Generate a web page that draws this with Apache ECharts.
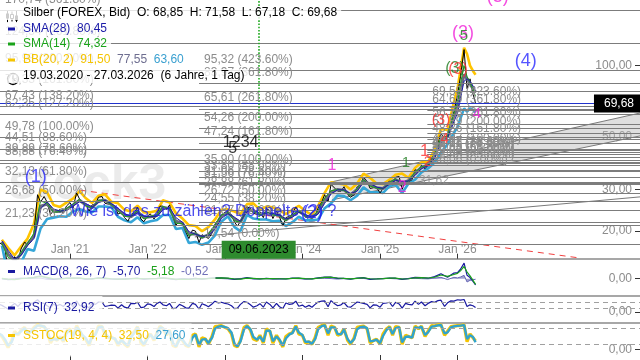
<!DOCTYPE html>
<html><head><meta charset="utf-8">
<script src="https://cdn.jsdelivr.net/npm/echarts@6/dist/echarts.min.js"></script>
<style>html,body{margin:0;padding:0;background:#fff}#c{width:640px;height:360px}</style>
</head><body><div id="c"></div>
<script>
const FONT = '"Liberation Sans", Arial, sans-serif';
// ---------- axes ----------
const xAxisMin = '2020-02-06';
const xAxisMax = '2028-05-10';
const yearTicks = ['2021-01-01','2022-01-01','2023-01-01','2024-01-01','2025-01-01','2026-01-01'];
const priceTicks = [20, 30, 50, 100];
const priceAxisMin = 15.29, priceAxisMax = 189.5;

// ---------- price (1st and 15th of each month, Feb 2020 - Mar 2026, + last day) ----------
const priceValues = [
 17.9,17.6, 16.8,13.5, 14.0,15.6, 15.0,16.8, 18.0,17.4, 18.0,19.6, 28.5,26.5, 28.0,26.5, 23.5,24.5, 24.0,24.7, 23.8,25.5,
 26.4,25.0, 29.0,27.3, 26.5,26.0, 24.3,25.8, 26.0,27.8, 28.0,26.2, 26.0,25.8, 25.5,23.6, 24.0,22.8, 22.0,23.5, 24.0,25.2, 22.5,21.9,
 23.2,23.6, 22.5,23.6, 25.5,25.5, 24.7,25.8, 22.8,21.2, 22.0,21.5, 19.8,18.6, 20.2,20.0, 17.9,19.3, 19.0,18.6, 19.6,21.4, 22.4,23.4,
 24.0,24.2, 23.5,21.8, 21.0,22.0, 24.1,25.3, 25.0,23.8, 23.6,24.2, 22.8,24.9, 24.4,22.6, 24.3,23.0, 21.0,22.8, 23.1,23.6, 25.3,24.1,
 23.9,22.9, 23.0,22.6, 23.2,25.0, 26.5,28.5, 26.6,31.5, 30.4,29.5, 29.5,30.8, 28.6,27.8, 28.5,30.8, 31.5,33.8, 32.5,30.3, 30.5,30.6,
 29.0,30.2, 31.5,32.6, 31.3,33.8, 34.0,30.0, 32.6,32.3, 33.0,36.3, 36.0,38.0, 36.7,38.0, 40.5,42.5, 46.5,52.0, 48.5,51.0, 57.0,64.0,
 75.0,90.0, 117.0,80.0, 88.0,76.0, 69.68
];
const rsiValues = [
 55,48, 35,22, 45,62, 40,66, 70,45, 58,70, 88,68, 62,45, 30,56, 45,55, 40,66,
 64,38, 80,48, 42,45, 30,62, 55,72, 70,40, 45,50, 48,28, 52,35, 28,62, 60,70, 32,35,
 58,55, 40,62, 72,52, 45,62, 25,28, 55,45, 30,28, 62,55, 22,60, 50,38, 58,78, 66,70,
 62,58, 45,25, 28,55, 75,70, 52,35, 45,60, 35,72, 55,30, 62,38, 25,65, 55,58, 78,42,
 50,35, 48,35, 55,72, 78,80, 38,82, 60,45, 52,68, 38,35, 55,72, 68,62, 55,30, 52,50,
 35,62, 65,70, 40,70, 58,28, 62,55, 52,78, 55,72, 45,62, 75,70, 82,85, 40,66, 80,78,
 88,86, 90,40, 52,45, 32.92
];
const stochK = [
 60,50, 30,8, 35,70, 55,75, 85,60, 70,85, 95,90, 88,70, 25,45, 35,50, 30,70,
 80,45, 92,70, 50,40, 15,55, 60,90, 88,55, 45,48, 40,15, 40,20, 10,55, 70,88, 25,15,
 50,60, 35,65, 90,80, 55,75, 15,10, 45,35, 15,10, 55,60, 10,45, 40,20, 50,88, 90,92,
 85,80, 60,15, 10,35, 85,92, 75,40, 35,55, 25,80, 70,25, 55,35, 10,50, 60,65, 92,60,
 55,25, 30,20, 45,85, 92,95, 55,90, 85,55, 60,80, 35,20, 45,85, 88,90, 80,25, 35,40,
 20,60, 80,88, 55,88, 85,20, 55,50, 45,90, 80,90, 50,70, 92,90, 95,95, 55,70, 88,90,
 92,92, 95,30, 60,45, 32.5
];
const stochD = [
 62,55, 38,15, 28,60, 60,70, 82,65, 68,80, 92,92, 88,75, 35,40, 38,45, 35,62,
 76,52, 85,75, 55,45, 22,48, 58,85, 88,62, 48,46, 42,22, 35,25, 15,45, 65,85, 35,20,
 42,58, 40,60, 85,82, 60,72, 25,12, 38,38, 20,12, 45,58, 18,38, 40,25, 45,80, 88,90,
 86,82, 65,22, 12,30, 78,90, 78,48, 38,50, 30,72, 72,32, 50,38, 15,42, 58,63, 88,65,
 56,30, 30,22, 40,78, 90,93, 62,85, 85,60, 58,76, 40,25, 40,78, 86,88, 82,32, 33,38,
 25,52, 76,86, 60,82, 86,28, 48,50, 46,85, 82,88, 56,66, 88,90, 93,94, 62,66, 85,89,
 91,92, 94,40, 55,48, 27.6
];

// ---------- indicators (15th of each month Feb 2020 - Dec 2025, then finer) ----------
const bandTailDates = ['2026-01-01','2026-01-15','2026-02-01','2026-02-15','2026-03-01','2026-03-15','2026-03-27'];
const bbUpper = [
 18.4,17.0,15.8,17.2,18.6,21.5,30.0,29.2,25.8,25.3,26.4,
 27.4,29.5,27.6,26.3,28.2,28.6,26.6,26.2,24.6,24.2,25.6,24.0,
 24.0,24.4,27.0,26.4,23.8,22.6,21.2,21.0,20.0,20.8,22.4,24.6,
 24.7,24.2,23.6,26.0,26.2,24.6,25.4,25.2,24.5,23.6,24.6,25.6,
 24.3,23.4,25.6,29.0,32.2,31.8,31.5,30.0,31.8,35.0,33.6,31.8,
 31.6,33.0,34.6,35.0,33.6,37.0,39.0,39.2,44.0,54.0,53.5,70.0,
 80,96,119,112,100,95,91.5
];
const bbMiddle = [
 18.0,16.0,15.0,16.0,17.7,19.0,25.5,26.0,24.3,24.2,24.7,
 25.8,27.0,25.8,25.1,26.8,27.0,25.9,24.6,23.4,23.0,24.2,22.8,
 23.0,23.3,25.2,24.9,22.0,21.6,19.4,19.5,18.8,19.3,20.8,23.2,
 23.9,22.5,21.8,24.7,24.4,23.5,23.9,23.6,23.3,22.3,23.2,24.3,
 23.2,22.8,24.0,27.0,29.2,30.0,29.8,28.5,30.0,32.8,31.4,30.5,
 30.3,32.0,33.0,32.0,32.7,35.0,37.2,38.0,41.5,48.5,50.0,61.0,
 67,78,92,88,84,80,77.55
];
const bbLower = [
 17.4,13.0,14.0,14.7,16.8,16.5,20.5,22.5,22.8,23.1,23.0,
 24.2,24.8,24.2,24.0,25.4,25.4,25.2,23.0,22.2,21.8,22.9,21.6,
 22.0,22.3,23.4,23.4,20.4,20.6,17.8,18.0,17.5,17.9,19.2,21.9,
 23.1,20.8,20.0,23.4,22.6,22.4,22.4,22.0,22.1,21.0,21.8,23.0,
 22.2,22.2,22.4,25.0,26.2,28.3,28.1,27.0,28.2,30.6,29.2,29.2,
 29.0,31.0,31.4,29.0,31.8,33.0,35.4,36.8,39.0,43.0,46.5,52.0,
 55,60,66,64,66,65,63.6
];
const sma28 = [
 18.2,16.6,15.2,15.8,17.4,18.6,24.8,26.6,24.8,24.3,24.5,
 25.5,26.6,26.2,25.3,26.4,27.0,26.1,25.0,23.7,23.1,23.9,23.1,
 23.0,23.1,24.6,25.1,22.8,21.8,19.9,19.4,19.0,19.1,20.3,22.6,
 23.7,22.9,22.0,24.2,24.6,23.8,23.8,23.8,23.4,22.5,22.9,24.0,
 23.5,22.9,23.6,26.2,28.7,29.9,29.9,28.8,29.5,32.2,31.8,30.7,
 30.3,31.6,32.8,32.3,32.6,34.4,36.7,37.8,40.6,47.0,49.6,58.0,
 63,73,86,88,86,82,80.45
];
const sma14 = [
 17.8,15.5,14.9,16.2,17.8,19.6,26.8,26.2,24.0,24.2,24.9,
 26.0,27.3,25.6,25.0,27.0,27.0,25.8,24.3,23.1,23.1,24.4,22.5,
 23.1,23.4,25.5,24.7,21.6,21.5,19.1,19.6,18.7,19.4,21.2,23.4,
 24.0,22.1,21.8,25.0,24.2,23.4,24.1,23.4,23.2,22.1,23.4,24.4,
 23.1,22.7,24.4,27.6,29.6,30.0,29.7,28.2,30.2,33.0,31.0,30.4,
 30.2,32.2,33.2,31.5,32.6,35.5,37.4,38.0,42.3,49.8,50.3,63.0,
 70,84,100,90,85,79,74.32
];
const macdLine = [
 0.1,-1.0,-0.6,0.3,0.5,1.2,2.6,0.5,-0.6,-0.1,0.4,
 0.5,0.6,-0.4,-0.2,0.7,0.3,-0.3,-0.6,-0.4,0.0,0.4,-0.4,
 0.0,0.2,0.8,-0.1,-1.0,-0.3,-0.7,0.2,-0.4,0.2,0.7,0.8,
 0.3,-0.7,-0.2,0.9,0.0,-0.3,0.3,-0.2,-0.1,-0.3,0.4,0.4,
 -0.3,-0.2,0.7,1.4,1.4,0.2,0.2,-0.5,0.6,1.0,-0.6,-0.3,
 0.1,0.6,0.4,-0.6,0.1,1.1,0.9,0.4,1.8,4.5,1.2,5.0,
 5.5,8.5,14.0,3.0,1.0,-2.5,-5.70
];
const macdSignal = [
 0.2,-0.5,-0.8,-0.1,0.4,0.9,2.0,1.2,-0.1,-0.3,0.2,
 0.4,0.5,0.0,-0.3,0.4,0.5,-0.1,-0.5,-0.5,-0.1,0.3,-0.1,
 -0.1,0.1,0.6,0.2,-0.7,-0.5,-0.6,-0.1,-0.2,0.0,0.5,0.7,
 0.5,-0.3,-0.4,0.5,0.3,-0.2,0.1,0.0,-0.1,-0.2,0.2,0.4,
 0.0,-0.2,0.4,1.1,1.3,0.6,0.2,-0.2,0.3,0.8,-0.1,-0.3,
 0.0,0.4,0.5,-0.3,-0.1,0.8,0.9,0.6,1.3,3.3,2.0,3.8,
 4.8,7.0,11.0,6.0,2.5,-1.5,-5.18
];
const macdHist = [
 -0.1,-0.5,0.2,0.4,0.1,0.3,0.6,-0.7,-0.5,0.2,0.2,
 0.1,0.1,-0.4,0.1,0.3,-0.2,-0.2,-0.1,0.1,0.1,0.1,-0.3,
 0.1,0.1,0.2,-0.3,-0.3,0.2,-0.1,0.3,-0.2,0.2,0.2,0.1,
 -0.2,-0.4,0.2,0.4,-0.3,-0.1,0.2,-0.2,0.0,-0.1,0.2,0.0,
 -0.3,0.0,0.3,0.3,0.1,-0.4,0.0,-0.3,0.3,0.2,-0.5,0.0,
 0.1,0.2,-0.1,-0.3,0.2,0.3,0.0,-0.2,0.5,1.2,-0.8,1.2,
 0.7,1.5,3.0,-3.0,-1.5,-1.0,-0.52
];

// ---------- Fibonacci levels ----------
const fibPctFull = [423.6,361.8,261.8,200,161.8,100,88.6,78.6,76.4,61.8,50,38.2,23.6,0];
const fibLeftValues = [170.74,124.54,95.98,78.33,67.43,62.35,49.78,44.51,39.89,38.88,32.13,26.68,21.23];
const fibLeftPct = [361.8,261.8,200,161.8,138.2,127.2,100,88.6,78.6,76.4,61.8,50,38.2];
const fibMidStart = '2022-09-01';
const fibMidValues = [95.32,83.97,65.61,54.26,47.24,35.90,33.80,31.96,31.56,28.88,26.72,24.55,21.87,17.54];
const fibRightStart = '2025-08-12';
const fibRightValues = [69.58,64.69,56.78,51.89,48.86,43.97,43.07,42.28,42.11,40.95,40.02,39.08,37.93,36.06];

// ---------- trend lines ----------
const channelDates = ['2024-05-19','2028-05-10'];
const channelUpper = [32.3, 63.1];
const channelLower = [27.1, 50.5];
const supportDates = ['2022-08-12','2028-05-10'];
const supportValues = [18.9, 27.9];
const redDates = ['2021-02-17','2027-07-30'];
const redValues = [29.8, 15.4];
const lastPrice = 69.68;
const markerDate = '2023-06-09';

// ---------- wave annotations ----------
const annoTexts  = ['(1)','(2)','(3)','5','(5)','(4)','(3)','(3)','1','2','1','1','2','(3)','4','4','1234','5','31,62','Wie ist das zu zählen? Doppelte (2) ?'];
const annoDates  = ['2020-07-24','2024-02-14','2026-01-27','2026-01-31','2026-07-10','2026-11-19','2025-12-20','2026-01-03','2024-05-19','2025-04-15','2025-05-03','2025-07-31','2025-08-14','2025-10-15','2025-11-02','2026-04-02','2023-03-16','2023-02-07','2025-09-12','2021-01-01'];
const annoPrices = [33.9,23.8,137.4,133.6,195,104.7,96.8,95.9,38.0,30.4,38.8,43.6,39.2,58.95,49.0,62.5,47.1,44.5,32.6,24.08];
const annoColors = ['#2a2aff','#2a2aff','#f020d8','#1e7a1e','#f020d8','#2a2aff','#1e7a1e','#ff3030','#f020d8','#f020d8','#1e7a1e','#ff3030','#ff3030','#ff3030','#ff3030','#f020d8','#000','#000','#8c8c8c','#2020e8'];
const annoSizes  = [18,18,18,15,18,18,16,16,16,16,15,17,15,15,15,15,16,16,12,16];

// ---------- helpers ----------
function ts(s){ return Date.parse(s + 'T00:00:00Z'); }
function lg(v){ return Math.log10(v); }
function fmt(v){ return v.toFixed(2).replace('.', ','); }

const semiDates = [];
for (let y = 2020; y <= 2026; y++) for (let m = 1; m <= 12; m++) {
  if (y === 2020 && m < 2) continue;
  if (y === 2026 && m > 3) break;
  const mm = String(m).padStart(2,'0');
  semiDates.push(y+'-'+mm+'-01', y+'-'+mm+'-15');
}
semiDates.push('2026-03-27');
const bandDates = [];
for (let y = 2020; y <= 2025; y++) for (let m = 1; m <= 12; m++) {
  if (y === 2020 && m < 2) continue;
  bandDates.push(y+'-'+String(m).padStart(2,'0')+'-15');
}
bandTailDates.forEach(d => bandDates.push(d));

function pairs(dates, vals, f){ return dates.map((d,i)=>[ts(d), f ? f(vals[i]) : vals[i]]); }

const yMin = lg(priceAxisMin), yMax = lg(priceAxisMax);
const yearTickTs = yearTicks.map(ts);

function fibLines(start, vals, pcts){
  return vals.map((v,i)=>{
    const lab = {formatter: fmt(v) + ' (' + pcts[i].toFixed(2) + '%)'};
    return [{coord:[ts(start), lg(v)], label: lab}, {coord:[ts(xAxisMax), lg(v)], label: lab}];
  });
}

function lineSeries(dates, vals, color, width, z, axis){
  return {type:'line', xAxisIndex:axis||0, yAxisIndex:axis||0, data: pairs(dates, vals, axis ? null : lg),
    showSymbol:false, symbol:'none', silent:true, z:z, lineStyle:{color:color, width:width}};
}

const annoData = annoTexts.map((t,i)=>{
  const left = i === annoTexts.length - 1;
  return {value:[ts(annoDates[i]), lg(annoPrices[i])],
    label:{show:true, formatter:t, color:annoColors[i], fontSize:annoSizes[i], fontFamily:FONT,
      position: left ? 'right' : 'inside', distance: 0, align: left ? 'left' : 'center'}};
});

const chart = echarts.init(document.getElementById('c'), null, {renderer:'canvas'});

const dashRich = c => ({width:7, height:3, backgroundColor:c});
const legendBg = 'rgba(255,255,255,0.8)';
const baseText = {fontSize:12, fontFamily:FONT, fontWeight:'normal', color:'#000'};

const option = {
  animation:false,
  backgroundColor:'#fff',
  textStyle:{fontFamily:FONT},
  grid:[
    {left:0,right:0,top:0,height:258.7},
    {left:0,right:0,top:258.7,height:36.6},
    {left:0,right:0,top:295.3,height:27.4},
    {left:0,right:0,top:322.7,height:37.3}
  ],
  xAxis:[0,1,2,3].map(i=>({
    type:'value', gridIndex:i, min:ts(xAxisMin), max:ts(xAxisMax),
    splitLine:{show:false},
    axisLine:{show:i<3, onZero:false, lineStyle:{color:'#8a8a8a', width:1.5}},
    axisTick:{show:i===0||i===3, inside:true, length:5, customValues:yearTickTs, lineStyle:{color:'#333'}},
    axisLabel:{show:i===0, inside:true, margin:3, customValues:yearTickTs, color:'#8c8c8c', fontSize:12, fontFamily:FONT,
      formatter:v=>"Jan '" + String(new Date(v).getUTCFullYear()).slice(2)}
  })),
  yAxis:[
    {type:'value', gridIndex:0, position:'right', min:yMin, max:yMax, splitLine:{show:false}, axisLine:{show:false},
      axisTick:{show:true, inside:true, length:5, customValues:priceTicks.map(lg), lineStyle:{color:'#333'}},
      axisLabel:{inside:true, margin:8, customValues:priceTicks.map(lg), color:'#8c8c8c', fontSize:12, fontFamily:FONT,
        formatter:v=>fmt(Math.pow(10,v))}},
    {type:'value', gridIndex:1, position:'right', min:-15, max:18},
    {type:'value', gridIndex:2, position:'right', min:-76, max:120},
    {type:'value', gridIndex:3, position:'right', min:-40.4, max:103.1}
  ].map((a,i)=> i===0 ? a : Object.assign(a, {splitLine:{show:false}, axisLine:{show:false},
      axisTick:{show:true, inside:true, length:5, customValues:[0], lineStyle:{color:'#333'}},
      axisLabel:{inside:true, margin:8, customValues:[0], color:'#8c8c8c', fontSize:12, fontFamily:FONT, formatter:()=> '0,00'}})),
  title:[
    {left:0, top:6, padding:[1,4,1,8], backgroundColor:legendBg,
      text:'{sp| }Silber (FOREX, Bid)  O: 68,85  H: 71,58  L: 67,18  C: 69,68',
      textStyle:Object.assign({}, baseText, {rich:{sp:{width:15}}})},
    {left:0, top:22, padding:[1,4,1,8], backgroundColor:legendBg,
      text:'{d| }{sp| }{c|SMA(28)  80,45}',
      textStyle:Object.assign({}, baseText, {rich:{d:dashRich('#1a1aa8'), sp:{width:8}, c:{color:'#1a1aa8', fontSize:12}}})},
    {left:0, top:37, padding:[1,4,1,8], backgroundColor:legendBg,
      text:'{d| }{sp| }{c|SMA(14)  74,32}',
      textStyle:Object.assign({}, baseText, {rich:{d:dashRich('#1aa31a'), sp:{width:8}, c:{color:'#1aa31a', fontSize:12}}})},
    {left:0, top:53, padding:[1,4,1,8], backgroundColor:legendBg,
      text:'{d| }{sp| }{y|BB(20, 2)  91,50}  {m|77,55}  {l|63,60}',
      textStyle:Object.assign({}, baseText, {rich:{d:dashRich('#f5c400'), sp:{width:8}, y:{color:'#f5c400', fontSize:12}, m:{color:'#6e6e90', fontSize:12}, l:{color:'#3aa0d0', fontSize:12}}})},
    {left:0, top:69, padding:[1,4,1,8], backgroundColor:legendBg,
      text:'{sp| }19.03.2020 - 27.03.2026  (6 Jahre, 1 Tag)',
      textStyle:Object.assign({}, baseText, {rich:{sp:{width:15}}})},
    {left:0, top:259.5, padding:[6,7,15,8], backgroundColor:legendBg,
      text:'{d| }{sp| }{b|MACD(8, 26, 7)}  {b|-5,70}  {g|-5,18}  {p|-0,52}',
      textStyle:Object.assign({}, baseText, {rich:{d:dashRich('#1a1aa0'), sp:{width:8}, b:{color:'#1a1aa0', fontSize:12}, g:{color:'#1aa01a', fontSize:12}, p:{color:'#7070b8', fontSize:12}}})},
    {left:0, top:296, padding:[6,8,6,8], backgroundColor:legendBg,
      text:'{d| }{sp| }{b|RSI(7)  32,92}',
      textStyle:Object.assign({}, baseText, {rich:{d:dashRich('#1a1aa0'), sp:{width:8}, b:{color:'#1a1aa0', fontSize:12}}})},
    {left:0, top:323.5, padding:[6,6,15,8], backgroundColor:legendBg,
      text:'{d| }{sp| }{y|SSTOC(19, 4, 4)  32,50}  {l|27,60}',
      textStyle:Object.assign({}, baseText, {rich:{d:dashRich('#f5c400'), sp:{width:8}, y:{color:'#f5c400', fontSize:12}, l:{color:'#3aa0d0', fontSize:12}}})}
  ],
  graphic:[
    {type:'text', left:8, top:160, z:0, silent:true,
      style:{text:'stock3', font:'bold 50px "Liberation Sans", Arial, sans-serif', fill:'rgba(0,0,0,0.08)'}},
    {type:'group', left:5, top:8, z:100, silent:true, children:[
      {type:'line', shape:{x1:1.5,y1:0,x2:1.5,y2:12}, style:{stroke:'#000', lineWidth:1}},
      {type:'rect', shape:{x:0,y:3,width:3,height:5}, style:{fill:'#000'}},
      {type:'line', shape:{x1:6,y1:1,x2:6,y2:11}, style:{stroke:'#000', lineWidth:1}},
      {type:'rect', shape:{x:4.5,y:4,width:3,height:4}, style:{fill:'#fff', stroke:'#000', lineWidth:1}},
      {type:'line', shape:{x1:10.5,y1:0,x2:10.5,y2:12}, style:{stroke:'#000', lineWidth:1}},
      {type:'rect', shape:{x:9,y:5,width:3,height:5}, style:{fill:'#000'}}
    ]},
    {type:'group', left:5, top:71, z:100, silent:true, children:[
      {type:'circle', shape:{cx:6.5, cy:6.5, r:5.5}, style:{fill:'none', stroke:'#000', lineWidth:1.3}},
      {type:'line', shape:{x1:6.5,y1:6.5,x2:6.5,y2:3}, style:{stroke:'#000', lineWidth:1.3}},
      {type:'line', shape:{x1:6.5,y1:6.5,x2:9,y2:8.5}, style:{stroke:'#000', lineWidth:1.3}}
    ]}
  ],
  series:[
    // channel fill
    {type:'custom', xAxisIndex:0, yAxisIndex:0, z:1, silent:true, clip:true,
      data:[[ts(channelDates[0]), lg(channelUpper[0])]],
      renderItem:(params, api)=>{
        const p = [
          api.coord([ts(channelDates[0]), lg(channelUpper[0])]),
          api.coord([ts(channelDates[1]), lg(channelUpper[1])]),
          api.coord([ts(channelDates[1]), lg(channelLower[1])]),
          api.coord([ts(channelDates[0]), lg(channelLower[0])])
        ];
        return {type:'polygon', shape:{points:p}, style:{fill:'rgba(185,185,185,0.45)'}};
      }},
    // fib levels
    {type:'line', xAxisIndex:0, yAxisIndex:0, z:1, silent:true, showSymbol:false,
      data:[[ts(xAxisMin), lg(100)]], lineStyle:{opacity:0},
      markLine:{symbol:['none','none'], silent:true, animation:false,
        lineStyle:{color:'#7c7c7c', width:1.1, type:'solid'},
        label:{show:true, position:'insideStartTop', color:'#8c8c8c', fontSize:12, fontFamily:FONT},
        emphasis:{disabled:true},
        data:[].concat(
          fibLines(xAxisMin, fibLeftValues, fibLeftPct),
          fibLines(fibMidStart, fibMidValues, fibPctFull),
          fibLines(fibRightStart, fibRightValues, fibPctFull))}},
    // trend lines
    lineSeries(channelDates, channelUpper, '#7a7a7a', 1, 2),
    lineSeries(channelDates, channelLower, '#7a7a7a', 1, 2),
    lineSeries(supportDates, supportValues, '#7a7a7a', 1, 2),
    Object.assign(lineSeries(redDates, redValues, '#f04040', 1, 2), {lineStyle:{color:'#f04040', width:1, type:[6,5]}}),
    // bands, price, SMAs
    lineSeries(bandDates, bbUpper, '#ffc400', 2.6, 3),
    lineSeries(bandDates, bbLower, '#35a6d8', 2.6, 3),
    lineSeries(semiDates, priceValues, '#000', 1, 3),
    lineSeries(bandDates, bbMiddle, '#6a6a80', 3, 3),
    lineSeries(bandDates, sma14, '#1aa31a', 1, 3),
    Object.assign(lineSeries(bandDates, sma28, '#1a1aa8', 1, 3), {
      markLine:{symbol:['none','none'], silent:true, animation:false, emphasis:{disabled:true},
        data:[
          {yAxis:lg(lastPrice), lineStyle:{color:'#2233cc', width:1, type:'solid'},
            label:{show:true, position:'insideEnd', formatter:fmt(lastPrice), color:'#fff', backgroundColor:'#000',
              padding:[3,6,3,10], fontSize:12, fontFamily:FONT, distance:0}},
          {xAxis:ts(markerDate), lineStyle:{color:'#22aa22', width:1.6, type:'dotted'}, label:{show:false}}
        ]},
      markPoint:{silent:true, animation:false,
        data:[{coord:[ts(markerDate), yMin], symbol:'rect', symbolSize:[74,18], symbolOffset:[0,-9],
          itemStyle:{color:'#2e8b2e'},
          label:{show:true, position:'inside', formatter:'09.06.2023', color:'#000', fontSize:12, fontFamily:FONT}}]}
    }),
    // annotations
    {type:'scatter', xAxisIndex:0, yAxisIndex:0, z:6, silent:true, clip:false, symbolSize:1,
      itemStyle:{color:'rgba(0,0,0,0)'}, data:annoData},
    // MACD
    {type:'line', xAxisIndex:1, yAxisIndex:1, data:pairs(bandDates, macdHist), showSymbol:false, silent:true, z:2,
      lineStyle:{color:'#6a6ab8', width:1}, areaStyle:{color:'rgba(90,90,170,0.8)', origin:0}},
    lineSeries(bandDates, macdLine, '#1a1aa0', 1.2, 3, 1),
    lineSeries(bandDates, macdSignal, '#1aa01a', 1.2, 3, 1),
    // RSI
    Object.assign(lineSeries(semiDates, rsiValues, '#1a1aa0', 1.2, 3, 2), {
      markLine:{symbol:['none','none'], silent:true, animation:false, label:{show:false},
        lineStyle:{color:'#a0a0a0', type:[5,4], width:1}, data:[{yAxis:70},{yAxis:30}]}}),
    // SSTOC
    Object.assign(lineSeries(semiDates, stochK, '#f5c400', 3.2, 3, 3), {
      markLine:{symbol:['none','none'], silent:true, animation:false, label:{show:false},
        lineStyle:{color:'#a0a0a0', type:[5,4], width:1}, data:[{yAxis:80},{yAxis:20}]}}),
    lineSeries(semiDates, stochD, '#2fa3cf', 2.4, 4, 3)
  ]
};
chart.setOption(option);
</script></body></html>
